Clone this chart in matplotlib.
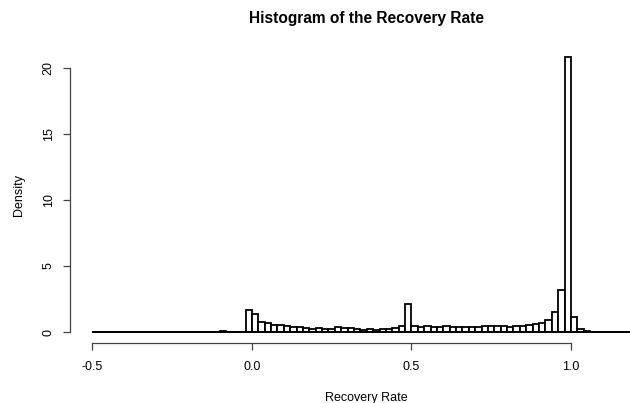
import numpy as np
import matplotlib
matplotlib.use("Agg")
import matplotlib.pyplot as plt

plt.rcParams["font.family"] = ["Liberation Sans", "DejaVu Sans"]

# histogram bins: width 0.02, from -0.5 to 1.22
bin_width = 0.02
first_edge = -0.5
last_edge = 1.22

# density of the non-empty part, bins starting at -0.10 up to 1.04
nonzero_start = -0.10
density_nonzero = [
    0.05, 0.0, 0.0, 0.03, 1.65,             # -0.10 .. -0.02
    1.37, 0.76, 0.66, 0.55, 0.53,           # 0.00 .. 0.08
    0.45, 0.36, 0.35, 0.28, 0.22,           # 0.10 .. 0.18
    0.27, 0.20, 0.20, 0.35, 0.30,           # 0.20 .. 0.28
    0.27, 0.20, 0.13, 0.20, 0.13,           # 0.30 .. 0.38
    0.20, 0.20, 0.28, 0.42, 2.15,           # 0.40 .. 0.48
    0.48, 0.36, 0.43, 0.36, 0.36,           # 0.50 .. 0.58
    0.43, 0.36, 0.36, 0.36, 0.36,           # 0.60 .. 0.68
    0.36, 0.43, 0.43, 0.43, 0.43,           # 0.70 .. 0.78
    0.38, 0.43, 0.46, 0.50, 0.63,           # 0.80 .. 0.88
    0.71, 0.93, 1.48, 3.20, 20.8,           # 0.90 .. 0.98
    1.17, 0.20, 0.08,                       # 1.00 .. 1.04
]

edges = np.round(np.arange(first_edge, last_edge + 1e-9, bin_width), 4)
lefts = edges[:-1]
density = np.zeros(len(lefts))
i0 = int(round((nonzero_start - first_edge) / bin_width))
density[i0:i0 + len(density_nonzero)] = density_nonzero

fig = plt.figure(figsize=(6.3, 4.03), dpi=100)
ax = fig.add_axes([0.1119, 0.1489, 0.9405, 0.7357])

ax.bar(lefts, density, width=bin_width, align="edge",
       facecolor="white", edgecolor="black", linewidth=1.3)
ax.hlines(0, edges[0], edges[-1], color="black", linewidth=1.3)

d = edges[-1] - edges[0]
ax.set_xlim(edges[0] - 0.04 * d, edges[-1] + 0.04 * d)
ymax = max(density)
ax.set_ylim(-0.04 * ymax, 1.04 * ymax)

ax.set_xticks([-0.5, 0.0, 0.5, 1.0])
ax.set_xticklabels(["-0.5", "0.0", "0.5", "1.0"])
ax.set_yticks([0, 5, 10, 15, 20])

for s in ["top", "right"]:
    ax.spines[s].set_visible(False)
ax.spines["left"].set_bounds(0, 20)
ax.spines["bottom"].set_bounds(-0.5, 1.0)
for s in ["left", "bottom"]:
    ax.spines[s].set_color("#444444")
    ax.spines[s].set_linewidth(0.9)
ax.tick_params(direction="out", length=5.3, width=0.9, color="#444444",
               labelsize=9)
ax.tick_params(axis="x", pad=8)
ax.tick_params(axis="y", pad=6)
for lab in ax.get_yticklabels():
    lab.set_rotation(90)
    lab.set_va("center")

ax.set_title("Histogram of the Recovery Rate", fontsize=11.2,
             fontweight="bold", pad=17)
ax.set_xlabel("Recovery Rate", fontsize=9, labelpad=13)
ax.set_ylabel("Density", fontsize=9, labelpad=13)

fig.savefig("out.png", dpi=100)
